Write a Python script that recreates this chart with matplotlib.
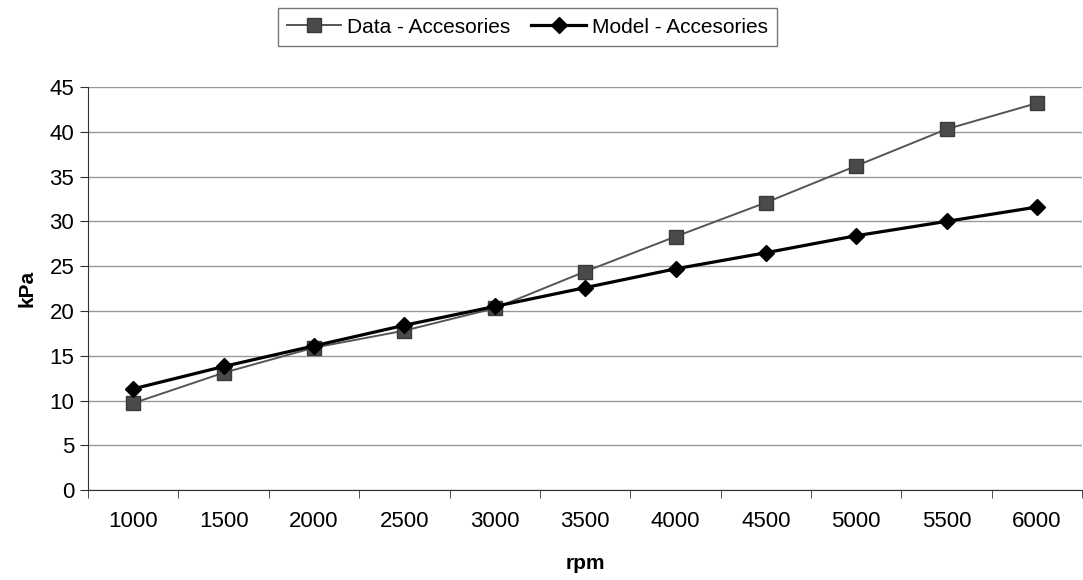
import matplotlib.pyplot as plt
import numpy as np

plt.rcParams['font.family'] = ['Liberation Sans', 'DejaVu Sans']

rpm = ['1000', '1500', '2000', '2500', '3000', '3500', '4000', '4500', '5000', '5500', '6000']
data_acc = [9.7, 13.1, 15.9, 17.8, 20.3, 24.4, 28.3, 32.1, 36.2, 40.3, 43.2]
model_acc = [11.3, 13.8, 16.1, 18.4, 20.5, 22.6, 24.7, 26.5, 28.4, 30.0, 31.6]

fig = plt.figure(figsize=(10.83, 5.8), dpi=100)
ax = fig.add_axes([0.0813, 0.155, 0.918, 0.695])

x = np.arange(len(rpm))
ax.plot(x, data_acc, color='#555555', lw=1.4, marker='s', ms=10,
        mfc='#4a4a4a', mec='#3a3a3a', label='Data - Accesories', zorder=3)
ax.plot(x, model_acc, color='black', lw=2.3, marker='D', ms=8,
        mfc='black', mec='black', label='Model - Accesories', zorder=4)

ax.set_xlim(-0.5, len(rpm) - 0.5)
ax.set_ylim(0, 45)
ax.set_yticks(range(0, 46, 5))
ax.set_xticks(x)
ax.set_xticklabels(rpm)
ax.set_xticks(np.arange(-0.5, len(rpm), 1), minor=True)
ax.tick_params(axis='x', which='major', length=0, labelsize=16, pad=15)
ax.tick_params(axis='x', which='minor', length=6, direction='out', color='#333333')
ax.tick_params(axis='y', length=6, labelsize=16, pad=4, color='#333333')

ax.grid(axis='y', color='#999999', lw=1)
ax.set_axisbelow(True)
for s in ['top', 'right']:
    ax.spines[s].set_visible(False)
for s in ['left', 'bottom']:
    ax.spines[s].set_color('#333333')

ax.set_xlabel('rpm', fontsize=15, fontweight='bold', labelpad=16)
ax.set_ylabel('kPa', fontsize=15, fontweight='bold', labelpad=9)

fig.legend(loc='center', bbox_to_anchor=(0.487, 0.953), ncol=2, fontsize=15,
           frameon=True, fancybox=False, edgecolor='#555555', handlelength=2.6,
           columnspacing=1.0, handletextpad=0.3, borderpad=0.45)

fig.savefig('out.png', dpi=100)
